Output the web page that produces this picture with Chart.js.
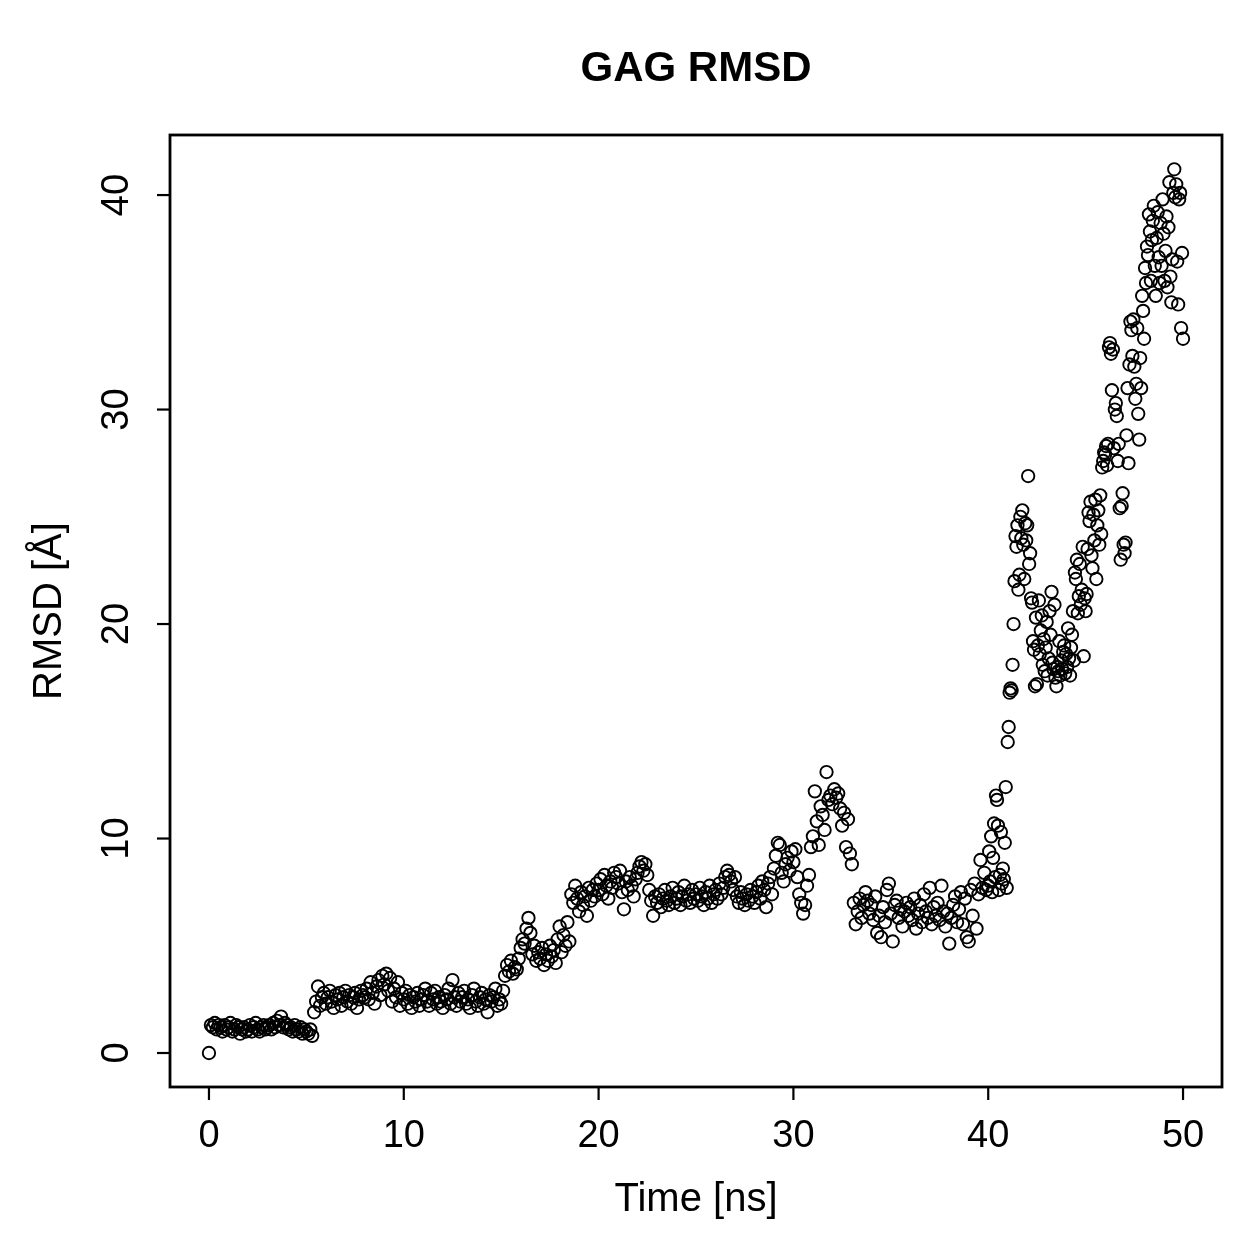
<!DOCTYPE html>
<html>
<head>
<meta charset="utf-8">
<script src="https://cdn.jsdelivr.net/npm/chart.js@4.4.1/dist/chart.umd.min.js"></script>
<style>
  html, body { margin: 0; padding: 0; background: #fff; }
  canvas { display: block; }
</style>
</head>
<body>
<canvas id="rmsd-chart" width="1259" height="1259"></canvas>
<script>
// RMSD, 0.0 - 39.9 ns every 0.1 ns
const rmsdEarly = [
  0.0, 1.3, 1.2, 1.4, 1.1, 1.3, 1.2, 1.0, 1.3, 1.1,
  1.2, 1.4, 1.0, 1.1, 1.3, 1.2, 0.9, 1.1, 1.2, 1.0,
  1.1, 1.3, 1.0, 1.2, 1.4, 1.1, 1.0, 1.2, 1.3, 1.1,
  1.2, 1.3, 1.1, 1.4, 1.2, 1.5, 1.3, 1.7, 1.2, 1.4,
  1.3, 1.1, 1.2, 1.0, 1.3, 1.1, 1.0, 1.2, 0.9, 1.1,
  1.0, 0.9, 1.1, 0.8, 1.9, 2.4, 3.1, 2.2, 2.6, 2.8,
  2.3, 2.6, 2.9, 2.4, 2.1, 2.7, 2.5, 2.8, 2.2, 2.6,
  2.9, 2.4, 2.7, 2.3, 2.6, 2.8, 2.1, 2.5, 2.9, 2.7,
  2.6, 3.0, 2.5, 3.3, 2.8, 2.3, 3.1, 3.4, 2.7, 3.6,
  3.2, 3.7, 2.9, 3.5, 2.4, 3.0, 2.6, 3.3, 2.2, 2.8,
  2.5, 2.9, 2.3, 2.7, 2.1, 2.6, 2.4, 2.8, 2.2, 2.5,
  2.7, 3.0, 2.4, 2.2, 2.8, 2.5, 2.9, 2.3, 2.6, 2.4,
  2.1, 2.7, 2.5, 3.0, 2.3, 3.4, 2.6, 2.2, 2.8, 2.4,
  2.6, 2.9, 2.3, 2.5, 2.1, 2.7, 3.0, 2.4, 2.2, 2.6,
  2.8, 2.3, 2.5, 1.9, 2.7, 2.4, 2.6, 3.0, 2.2, 2.5,
  2.3, 2.9, 3.6, 4.1, 3.8, 4.3, 3.7, 4.0, 3.9, 4.4,
  4.9, 5.3, 5.1, 5.8, 6.3, 5.6, 4.6, 5.0, 4.3, 4.7,
  4.4, 4.9, 4.1, 4.6, 4.3, 5.0, 4.5, 4.8, 4.2, 5.3,
  5.9, 4.7, 5.5, 5.0, 6.1, 5.2, 7.4, 7.0, 7.8, 7.2,
  6.6, 7.5, 6.9, 7.3, 6.4, 7.7, 7.1, 7.6, 7.3, 7.9,
  7.6, 8.1, 7.4, 8.3, 7.8, 7.2, 8.0, 7.7, 8.4, 8.2,
  7.9, 8.5, 7.5, 6.7, 8.0, 7.6, 8.2, 7.8, 7.3, 8.1,
  8.4, 8.7, 8.9, 8.5, 8.8, 8.3, 7.6, 7.1, 6.4, 7.3,
  7.0, 7.4, 6.8, 7.2, 7.6, 7.1, 6.9, 7.3, 7.7, 7.0,
  7.2, 7.5, 6.9, 7.3, 7.8, 7.1, 7.4, 7.0, 7.6, 7.2,
  7.4, 7.1, 7.7, 7.3, 6.9, 7.5, 7.2, 7.8, 7.0, 7.4,
  7.6, 7.2, 7.9, 7.4, 7.7, 8.2, 8.5, 8.3, 8.0, 7.6,
  8.2, 7.3, 7.0, 7.5, 7.2, 6.9, 7.4, 7.1, 7.6, 7.3,
  7.0, 7.5, 7.8, 7.2, 8.0, 7.6, 6.8, 7.9, 8.2, 7.4,
  8.6, 9.2, 9.8, 9.7, 8.4, 8.0, 8.8, 9.1, 8.5, 9.4,
  8.9, 9.5, 8.2, 7.4, 7.0, 6.5, 6.9, 7.8, 8.3, 9.6,
  10.1, 12.2, 10.8, 9.7, 11.5, 11.1, 10.4, 13.1, 11.8, 12.0,
  11.6, 12.3, 11.9, 12.1, 11.4, 10.6, 11.2, 9.6, 10.9, 9.3,
  8.8, 7.0, 6.0, 6.6, 7.2, 6.3, 6.9, 7.5, 7.1, 6.5,
  6.9, 6.2, 7.3, 5.6, 6.4, 5.4, 6.8, 6.1, 7.6, 7.9,
  6.5, 5.2, 6.9, 7.1, 6.3, 6.7, 5.9, 6.6, 7.0, 6.4,
  6.8, 6.2, 7.2, 5.8, 6.5, 6.9, 6.1, 7.4, 6.6, 6.3,
  7.7, 6.0, 6.8, 6.4, 7.0, 6.2, 7.8, 6.6, 5.9, 6.5,
  5.1, 6.3, 6.9, 7.3, 6.1, 6.7, 7.5, 6.0, 7.2, 5.4,
  5.2, 7.6, 6.4, 7.9, 5.8, 7.4, 9.0, 7.7, 8.4, 7.6
];
const earlyStep = 0.1;

// RMSD, 40.00 - 50.00 ns every 0.05 ns
const rmsdLate = [
  7.8, 9.4, 8.0, 10.1, 7.5, 9.1, 10.7, 8.2, 12.0, 11.8,
  10.6, 7.6, 8.3, 10.3, 7.9, 8.6, 8.1, 9.8, 12.4, 7.7,
  14.5, 15.2, 16.8, 17.0, 16.9, 18.1, 20.0, 22.0, 24.1, 23.6,
  24.6, 21.6, 22.3, 25.0, 24.0, 25.3, 23.7, 22.1, 24.7, 23.9,
  24.6, 26.9, 22.8, 23.3, 21.2, 21.0, 19.2, 18.8, 17.1, 20.3,
  17.2, 19.0, 21.1, 18.6, 19.7, 20.4, 18.1, 19.3, 17.8, 18.9,
  20.1, 17.6, 18.4, 20.6, 19.5, 21.5, 18.2, 17.9, 20.9, 17.5,
  17.1, 18.0, 17.8, 19.2, 17.6, 18.3, 17.9, 18.7, 19.0, 17.7,
  18.6, 18.0, 19.8, 18.4, 17.6, 18.9, 19.5, 20.6, 18.3, 22.4,
  22.1, 23.0, 20.5, 21.3, 22.8, 20.9, 21.6, 23.6, 18.5, 21.2,
  20.6, 21.4, 23.5, 25.2, 24.8, 25.7, 23.2, 22.6, 25.1, 23.9,
  25.8, 22.1, 24.6, 25.3, 23.7, 26.0, 24.2, 27.3, 27.6, 28.0,
  27.9, 28.3, 27.4, 28.4, 32.9, 33.1, 32.6, 30.9, 32.8, 28.2,
  30.0, 30.3, 29.7, 27.6, 28.4, 25.4, 23.0, 25.5, 26.1, 23.7,
  23.3, 23.8, 28.8, 31.0, 27.5, 32.1, 34.1, 33.7, 32.5, 34.2,
  32.0, 30.5, 31.2, 33.8, 29.8, 28.6, 32.4, 31.0, 35.3, 34.6,
  33.3, 36.6, 35.9, 37.6, 37.2, 39.1, 38.3, 36.0, 37.9, 38.8,
  39.5, 36.7, 35.3, 38.0, 39.2, 37.1, 35.9, 38.7, 36.7, 39.8,
  38.2, 36.0, 37.4, 39.0, 35.7, 38.5, 40.6, 36.2, 35.0, 37.0,
  40.1, 41.2, 39.9, 40.5, 36.9, 34.9, 39.8, 40.1, 33.8, 37.3,
  33.3
];
const lateStart = 40;
const lateStep = 0.05;

const xTicks = [0, 10, 20, 30, 40, 50];
const yTicks = [0, 10, 20, 30, 40];

const points = rmsdEarly.map((v, i) => ({ x: +(i * earlyStep).toFixed(2), y: v }))
  .concat(rmsdLate.map((v, i) => ({ x: +(lateStart + i * lateStep).toFixed(2), y: v })));

const FONT = '"Liberation Sans", Arial, Helvetica, sans-serif';

// R style frame, ticks and labels
const baseGraphics = {
  id: 'baseGraphics',
  afterDraw(chart) {
    const ctx = chart.ctx;
    const area = chart.chartArea;
    const xs = chart.scales.x;
    const ys = chart.scales.y;
    ctx.save();
    ctx.strokeStyle = '#000';
    ctx.fillStyle = '#000';
    ctx.lineWidth = 2.8;
    ctx.strokeRect(area.left, area.top, area.right - area.left, area.bottom - area.top);

    // x axis
    ctx.lineWidth = 2.2;
    ctx.font = '38px ' + FONT;
    ctx.textAlign = 'center';
    ctx.textBaseline = 'middle';
    xTicks.forEach((t) => {
      const px = xs.getPixelForValue(t);
      ctx.beginPath();
      ctx.moveTo(px, area.bottom);
      ctx.lineTo(px, area.bottom + 13);
      ctx.stroke();
      ctx.fillText(String(t), px, area.bottom + 50);
    });

    // y axis
    yTicks.forEach((t) => {
      const py = ys.getPixelForValue(t);
      ctx.beginPath();
      ctx.moveTo(area.left, py);
      ctx.lineTo(area.left - 13, py);
      ctx.stroke();
      ctx.save();
      ctx.translate(area.left - 52, py);
      ctx.rotate(-Math.PI / 2);
      ctx.fillText(String(t), 0, 0);
      ctx.restore();
    });

    // titles
    ctx.font = '40px ' + FONT;
    ctx.fillText('Time [ns]', (area.left + area.right) / 2, 1200);
    ctx.save();
    ctx.translate(50, (area.top + area.bottom) / 2);
    ctx.rotate(-Math.PI / 2);
    ctx.fillText('RMSD [Å]', 0, 0);
    ctx.restore();

    ctx.font = 'bold 42px ' + FONT;
    ctx.fillText('GAG RMSD', (area.left + area.right) / 2, 69);
    ctx.restore();
  }
};

const ctx = document.getElementById('rmsd-chart').getContext('2d');
new Chart(ctx, {
  type: 'scatter',
  data: {
    datasets: [{
      label: 'RMSD',
      data: points,
      pointStyle: 'circle',
      pointRadius: 6.2,
      pointBorderWidth: 1.9,
      pointBorderColor: '#000',
      pointBackgroundColor: 'rgba(0,0,0,0)',
    }],
  },
  options: {
    responsive: false,
    animation: false,
    devicePixelRatio: 1,
    layout: {
      padding: { left: 170, top: 135, right: 37, bottom: 172 },
    },
    plugins: {
      legend: { display: false },
      tooltip: { enabled: false },
    },
    scales: {
      x: { type: 'linear', min: -2, max: 52, display: false },
      y: { type: 'linear', min: -1.585, max: 42.8, display: false },
    },
  },
  plugins: [baseGraphics],
});
</script>
</body>
</html>
